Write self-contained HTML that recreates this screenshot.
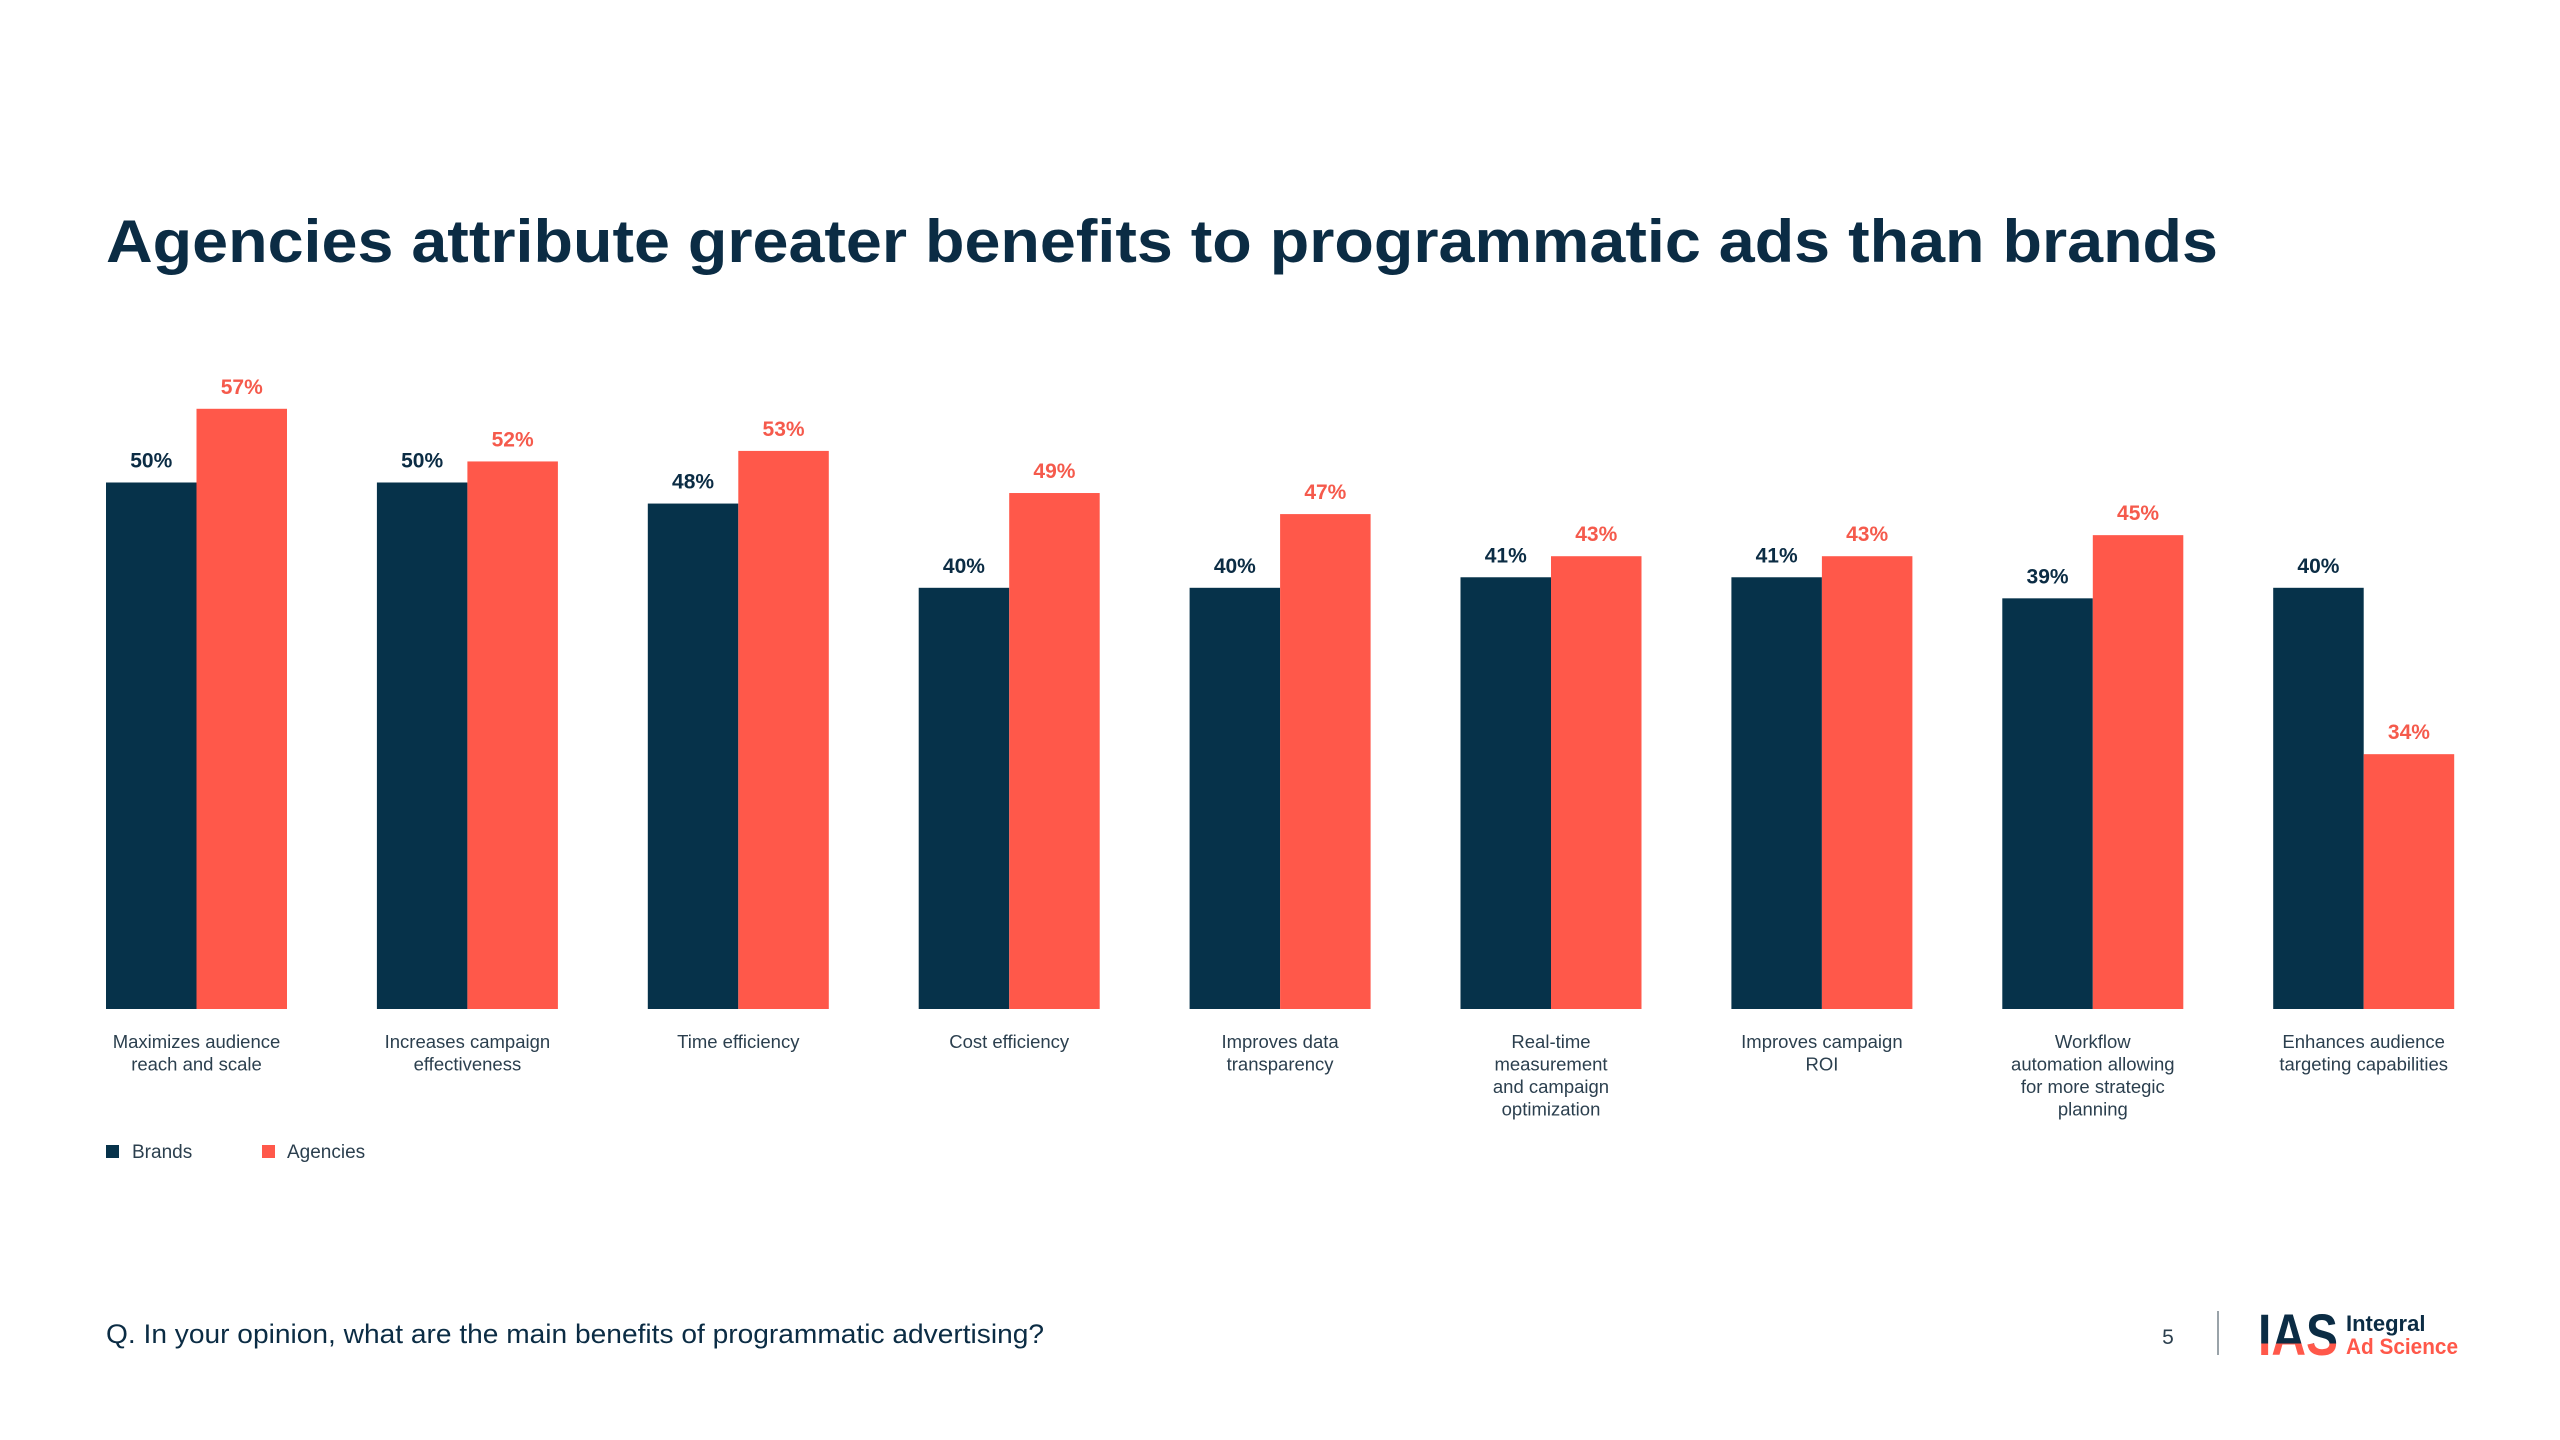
<!DOCTYPE html>
<html><head><meta charset="utf-8"><style>
html,body{margin:0;padding:0;background:#fff;}
svg{display:block;}
text{font-family:"Liberation Sans",sans-serif;}
</style></head><body>
<svg id="chart" width="2560" height="1440" viewBox="0 0 2560 1440" xmlns="http://www.w3.org/2000/svg">
<defs>
<linearGradient id="iasGrad" x1="0" y1="0" x2="0" y2="1">
<stop offset="0" stop-color="#0b2c44"/><stop offset="0.62" stop-color="#0b2c44"/><stop offset="0.62" stop-color="#ff584a"/><stop offset="1" stop-color="#ff584a"/>
</linearGradient>
</defs>
<text x="106" y="262" font-size="60" font-weight="bold" fill="#0b2c44" textLength="2112" lengthAdjust="spacingAndGlyphs">Agencies attribute greater benefits to programmatic ads than brands</text>
<g id="bars"></g>
<g id="labels"></g>
<g>
<rect x="106" y="1145" width="13" height="13" fill="#06324a"/>
<text x="132" y="1158" font-size="19" fill="#2b3f4e">Brands</text>
<rect x="262" y="1145" width="13" height="13" fill="#ff584a"/>
<text x="287" y="1158" font-size="19" fill="#2b3f4e">Agencies</text>
</g>
<text x="106" y="1343" font-size="27" fill="#0b2c44" textLength="938" lengthAdjust="spacingAndGlyphs">Q. In your opinion, what are the main benefits of programmatic advertising?</text>
<text x="2168" y="1344" font-size="21" fill="#2b3f4e" text-anchor="middle">5</text>
<rect x="2217" y="1311" width="2" height="44" fill="#9aa3a9"/>
<g>
<text x="2258" y="1355" font-size="58" font-weight="bold" fill="url(#iasGrad)" textLength="80" lengthAdjust="spacingAndGlyphs">IAS</text>
<text x="2346" y="1331" font-size="22" font-weight="bold" fill="#0b2c44">Integral</text>
<text x="2346" y="1354" font-size="22" font-weight="bold" fill="#ff584a" textLength="112" lengthAdjust="spacingAndGlyphs">Ad Science</text>
</g>
</svg>
<script>
const categories=[["Maximizes audience","reach and scale"],["Increases campaign","effectiveness"],["Time efficiency"],["Cost efficiency"],["Improves data","transparency"],["Real-time","measurement","and campaign","optimization"],["Improves campaign","ROI"],["Workflow","automation allowing","for more strategic","planning"],["Enhances audience","targeting capabilities"]];
const brands=[50,50,48,40,40,41,41,39,40];
const agencies=[57,52,53,49,47,43,43,45,24.2];
const brandLabels=["50%","50%","48%","40%","40%","41%","41%","39%","40%"];
const agencyLabels=["57%","52%","53%","49%","47%","43%","43%","45%","34%"];
const NS="http://www.w3.org/2000/svg";
const x0=106,pitch=270.9,bw=90.5,baseY=1009,pxPer=10.53;
const yScale=v=>baseY-v*pxPer;
const xScale=i=>x0+i*pitch;
const gb=document.getElementById('bars'),gl=document.getElementById('labels');
function mk(tag,attrs,parent){const e=document.createElementNS(NS,tag);for(const k in attrs)e.setAttribute(k,attrs[k]);parent.appendChild(e);return e;}
categories.forEach((c,i)=>{
  const x=xScale(i);
  [[brands[i],brandLabels[i],"#06324a",x,"brands"],[agencies[i],agencyLabels[i],"#ff584a",x+bw,"agencies"]].forEach(([v,lab,col,bx,s])=>{
    const r=mk('rect',{x:bx,y:yScale(v),width:bw,height:baseY-yScale(v),fill:col},gb);
    
    
    const t=mk('text',{x:bx+bw/2,y:yScale(v)-15,'font-size':21,'font-weight':'bold','text-anchor':'middle',fill:s==="brands"?"#0b2c44":"#f55a4c"},gb);
    t.textContent=lab;
    
    
  });
  const t=mk('text',{x:x+bw,y:1048,'font-size':18.5,'text-anchor':'middle',fill:'#2b3f4e'},gl);
  
  
  c.forEach((line,j)=>{const ts=mk('tspan',{x:x+bw,dy:j?22.5:0},t);ts.textContent=line;});
});
</script>
</body></html>
